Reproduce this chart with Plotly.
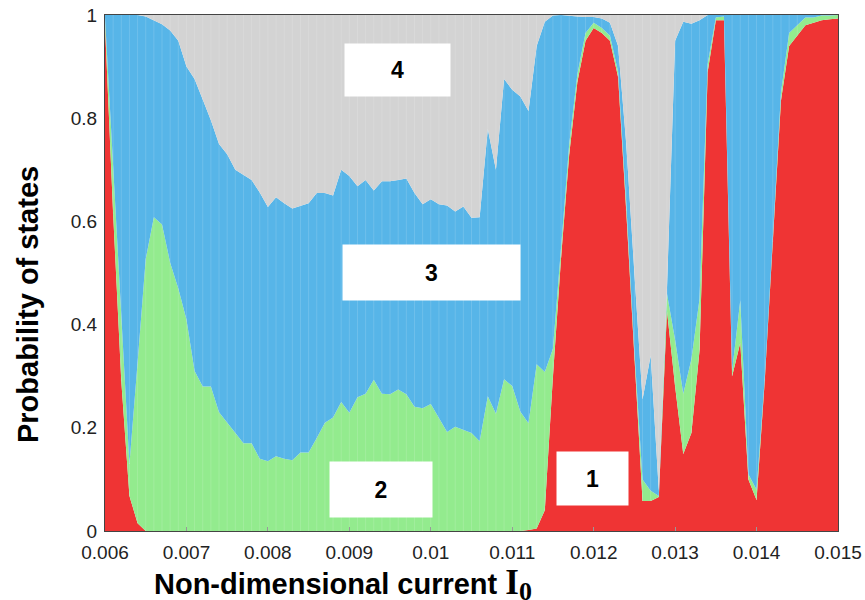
import plotly.graph_objects as go

# Non-dimensional current I0 (sampling grid of the simulation)
current = [0.0060, 0.0061, 0.0062, 0.0063, 0.0064, 0.0065, 0.0066, 0.0067, 0.0068, 0.0069,
           0.0070, 0.0071, 0.0072, 0.0073, 0.0074, 0.0075, 0.0076, 0.0077, 0.0078, 0.0079,
           0.0080, 0.0081, 0.0082, 0.0083, 0.0084, 0.0085, 0.0086, 0.0087, 0.0088, 0.0089,
           0.0090, 0.0091, 0.0092, 0.0093, 0.0094, 0.0095, 0.0096, 0.0097, 0.0098, 0.0099,
           0.0100, 0.0101, 0.0102, 0.0103, 0.0104, 0.0105, 0.0106, 0.0107, 0.0108, 0.0109,
           0.0110, 0.0111, 0.0112, 0.0113, 0.0114, 0.0115, 0.0116, 0.0117, 0.0118, 0.0119,
           0.0120, 0.0121, 0.0122, 0.0123, 0.0124, 0.0125, 0.0126, 0.0127, 0.0128, 0.0129,
           0.0130, 0.0131, 0.0132, 0.0133, 0.0134, 0.0135, 0.0136, 0.0137, 0.0138, 0.0139,
           0.0140, 0.0141, 0.0142, 0.0143, 0.0144, 0.0145, 0.0146, 0.0147, 0.0148, 0.0149,
           0.0150]

state1 = [0.98, 0.615, 0.29, 0.068, 0.015, 0, 0, 0, 0, 0,
          0, 0, 0, 0, 0, 0, 0, 0, 0, 0,
          0, 0, 0, 0, 0, 0, 0, 0, 0, 0,
          0, 0, 0, 0, 0, 0, 0, 0, 0, 0,
          0, 0, 0, 0, 0, 0, 0, 0, 0, 0,
          0, 0, 0.002, 0.005, 0.04, 0.30, 0.53, 0.73, 0.87, 0.95,
          0.975, 0.965, 0.95, 0.88, 0.62, 0.33, 0.058, 0.058, 0.066, 0.427,
          0.28, 0.149, 0.19, 0.35, 0.89, 0.99, 0.99, 0.30, 0.365, 0.10,
          0.06, 0.29, 0.56, 0.835, 0.94, 0.96, 0.98, 0.985, 0.99, 0.992,
          0.993]

state2 = [0.015, 0.095, 0.13, 0.062, 0.311, 0.527, 0.608, 0.594, 0.52, 0.47,
          0.41, 0.31, 0.28, 0.28, 0.23, 0.21, 0.19, 0.17, 0.17, 0.14,
          0.135, 0.145, 0.14, 0.137, 0.152, 0.152, 0.18, 0.21, 0.22, 0.25,
          0.229, 0.259, 0.266, 0.293, 0.266, 0.265, 0.274, 0.265, 0.241, 0.238,
          0.246, 0.219, 0.192, 0.202, 0.196, 0.19, 0.174, 0.261, 0.227, 0.294,
          0.281, 0.231, 0.207, 0.318, 0.268, 0.053, 0.02, 0.02, 0.015, 0.015,
          0.01, 0.01, 0.01, 0.01, 0.015, 0.02, 0.042, 0.02, 0.002, 0.033,
          0.09, 0.117, 0.143, 0.10, 0.015, 0.005, 0.007, 0.01, 0.082, 0.01,
          0.02, 0.005, 0.01, 0.015, 0.025, 0.02, 0.015, 0.01, 0.009, 0.007,
          0.007]

state3 = [0.005, 0.29, 0.58, 0.87, 0.674, 0.47, 0.382, 0.388, 0.45, 0.48,
          0.49, 0.566, 0.556, 0.516, 0.52, 0.52, 0.51, 0.52, 0.51, 0.516,
          0.493, 0.502, 0.495, 0.488, 0.478, 0.483, 0.475, 0.445, 0.43, 0.45,
          0.459, 0.409, 0.414, 0.367, 0.412, 0.413, 0.406, 0.418, 0.414, 0.395,
          0.397, 0.414, 0.439, 0.417, 0.433, 0.417, 0.434, 0.518, 0.473, 0.582,
          0.574, 0.611, 0.605, 0.617, 0.679, 0.646, 0.45, 0.248, 0.112, 0.031,
          0.011, 0.018, 0.025, 0.05, 0.115, 0.15, 0.155, 0.262, 0.01, 0.01,
          0.58, 0.721, 0.65, 0.54, 0.095, 0.005, 0.003, 0.69, 0.553, 0.89,
          0.92, 0.705, 0.43, 0.15, 0.035, 0.02, 0.005, 0.005, 0.001, 0.001,
          0.0]

state4 = [0, 0, 0, 0, 0, 0.003, 0.01, 0.018, 0.03, 0.05,
          0.10, 0.124, 0.164, 0.204, 0.25, 0.27, 0.30, 0.31, 0.32, 0.344,
          0.372, 0.353, 0.365, 0.375, 0.37, 0.365, 0.345, 0.345, 0.35, 0.30,
          0.312, 0.332, 0.32, 0.34, 0.322, 0.322, 0.32, 0.317, 0.345, 0.367,
          0.357, 0.367, 0.369, 0.381, 0.371, 0.393, 0.392, 0.221, 0.30, 0.124,
          0.145, 0.158, 0.186, 0.06, 0.013, 0.001, 0.0, 0.002, 0.003, 0.004,
          0.004, 0.007, 0.015, 0.06, 0.25, 0.50, 0.745, 0.66, 0.922, 0.53,
          0.05, 0.013, 0.017, 0.01, 0, 0, 0, 0, 0, 0,
          0, 0, 0, 0, 0, 0, 0, 0, 0, 0,
          0]

state_names = ["1", "2", "3", "4"]
state_colors = ["#EF3434", "#93EB8E", "#57B5E8", "#D3D3D3"]

x_tickvals = [0.006, 0.007, 0.008, 0.009, 0.010, 0.011, 0.012, 0.013, 0.014, 0.015]
x_ticktext = ["0.006", "0.007", "0.008", "0.009", "0.01", "0.011", "0.012", "0.013", "0.014", "0.015"]
y_tickvals = [0, 0.2, 0.4, 0.6, 0.8, 1]
y_ticktext = ["0", "0.2", "0.4", "0.6", "0.8", "1"]

fig = go.Figure()
for name, vals, col in zip(state_names, [state1, state2, state3, state4], state_colors):
    fig.add_trace(go.Scatter(
        x=current, y=vals, name=name, mode="lines", stackgroup="one",
        line=dict(width=0, color=col), fillcolor=col, showlegend=False,
        hoverinfo="x+y+name",
    ))

# faint seams between the sampled columns (above the state-1 area)
seam_x, seam_y = [], []
for xv, r in zip(current[1:-1], state1[1:-1]):
    if r < 0.98:
        seam_x += [xv, xv, None]
        seam_y += [r, 1, None]
fig.add_trace(go.Scatter(x=seam_x, y=seam_y, mode="lines", showlegend=False,
                         hoverinfo="skip",
                         line=dict(color="rgba(255,255,255,0.14)", width=1)))

font_main = "Liberation Sans, Arial, sans-serif"
serif = "Liberation Serif, Times New Roman, serif"

# label boxes (paper coordinates)
labels = [("4", 0.399, 0.893, 105, 52),
          ("3", 0.445, 0.501, 177, 55),
          ("2", 0.3765, 0.080, 102, 55),
          ("1", 0.6657, 0.1027, 71, 53)]
annotations = []
for txt, ax, ay, w, h in labels:
    annotations.append(dict(
        text="<b>%s</b>" % txt, x=ax, y=ay, xref="paper", yref="paper",
        showarrow=False, bgcolor="white", width=w, height=h, borderpad=0,
        font=dict(family=font_main, size=23, color="black"),
        xanchor="center", yanchor="middle",
    ))

annotations.append(dict(
    text="<b>Probability of states</b>", x=-0.105, y=0.438, xref="paper", yref="paper",
    showarrow=False, textangle=-90, font=dict(family=font_main, size=29, color="black"),
    xanchor="center", yanchor="middle",
))
annotations.append(dict(
    text=("<b>Non-dimensional current "
          "<span style='font-family:%s;font-size:35px'>I</span>"
          "<sub><span style='font-family:%s;font-size:26px'>0</span></sub></b>") % (serif, serif),
    x=0.064, y=-0.104, xref="paper", yref="paper", showarrow=False,
    font=dict(family=font_main, size=29, color="black"),
    xanchor="left", yanchor="middle",
))

fig.update_layout(
    width=865, height=600,
    margin=dict(l=105, r=27, t=15, b=69),
    paper_bgcolor="white", plot_bgcolor="white",
    annotations=annotations,
    hovermode="x",
    xaxis=dict(range=[0.006, 0.015], tickvals=x_tickvals, ticktext=x_ticktext,
               automargin=False, ticklabeloverflow="allow",
               showgrid=False, zeroline=False, showline=True, mirror=True,
               linecolor="#444", linewidth=1, ticks="inside", ticklen=4, tickcolor="#999",
               ticklabelstandoff=4,
               tickfont=dict(family=font_main, size=19, color="#222")),
    yaxis=dict(range=[0, 1], tickvals=y_tickvals, ticktext=y_ticktext,
               automargin=False, ticklabeloverflow="allow",
               showgrid=False, zeroline=False, showline=True, mirror=True,
               linecolor="#444", linewidth=1, ticks="",
               ticklabelstandoff=3,
               tickfont=dict(family=font_main, size=19, color="#222")),
)

fig.write_html("out.html",
               config={"displayModeBar": False},
               post_script="document.body.style.margin='0px';document.body.style.overflow='hidden';")
